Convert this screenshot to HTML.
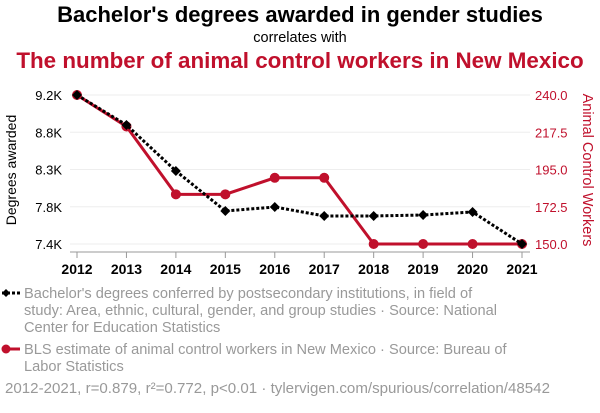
<!DOCTYPE html>
<html><head><meta charset="utf-8"><style>
body{margin:0;background:#fff;width:600px;height:408px;overflow:hidden;font-family:"Liberation Sans",sans-serif}
</style></head><body>
<svg width="600" height="408" font-family="Liberation Sans, sans-serif">
<text x="300" y="22" text-anchor="middle" font-size="22" font-weight="bold" fill="#000">Bachelor's degrees awarded in gender studies</text>
<text x="300" y="42" text-anchor="middle" font-size="14.5" fill="#000">correlates with</text>
<text x="300" y="68" text-anchor="middle" font-size="22.4" font-weight="bold" fill="#c0102c">The number of animal control workers in New Mexico</text>
<g id="grid"></g>
<g id="axes"></g>
<g id="series"></g>
<text transform="translate(16,170) rotate(-90)" text-anchor="middle" font-size="14" fill="#000">Degrees awarded</text>
<text transform="translate(583,170) rotate(90)" text-anchor="middle" font-size="14.5" fill="#c0102c">Animal Control Workers</text>
<g>
<line x1="2" y1="293" x2="22" y2="293" stroke="#000" stroke-width="3" stroke-dasharray="3,2"/>
<path d="M2,293 L6,289 L10,293 L6,297Z" fill="#000"/>
<text font-size="14.6" fill="#999"><tspan x="24" y="298">Bachelor's degrees conferred by postsecondary institutions, in field of</tspan><tspan x="24" y="315">study: Area, ethnic, cultural, gender, and group studies · Source: National</tspan><tspan x="24" y="332">Center for Education Statistics</tspan></text>
</g>
<g>
<line x1="2" y1="349" x2="20" y2="349" stroke="#c0102c" stroke-width="3"/>
<circle cx="6" cy="349" r="4.5" fill="#c0102c"/>
<text font-size="14.6" fill="#999"><tspan x="24" y="354">BLS estimate of animal control workers in New Mexico · Source: Bureau of</tspan><tspan x="24" y="371">Labor Statistics</tspan></text>
</g>
<text x="5" y="393" font-size="15.1" fill="#999">2012-2021, r=0.879, r²=0.772, p&lt;0.01 · tylervigen.com/spurious/correlation/48542</text>
</svg>
<script>
const years=[2012,2013,2014,2015,2016,2017,2018,2019,2020,2021];
const degrees=[9200,8838,8282,7799,7847,7739,7739,7750,7787,7400];
const workers=[240,221,180,180,190,190,150,150,150,150];
const leftTicks=[9200,8750,8300,7850,7400];
const leftLabels=["9.2K","8.8K","8.3K","7.8K","7.4K"];
const rightTicks=[240,217.5,195,172.5,150];
const NS="http://www.w3.org/2000/svg";
const x=i=>77+(522-77)*(years[i]-2012)/(2021-2012);
const yL=v=>95+(244-95)*(9200-v)/(9200-7400);
const yR=v=>95+(244-95)*(240-v)/(240-150);
function mk(t,a,p){const e=document.createElementNS(NS,t);for(const k in a)e.setAttribute(k,a[k]);p.appendChild(e);return e;}
const grid=document.getElementById('grid'),axes=document.getElementById('axes'),ser=document.getElementById('series');
leftTicks.forEach((v,i)=>{
 const g=mk('line',{x1:70,x2:530,y1:yL(v),y2:yL(v),stroke:'#eee','stroke-width':1},grid);
 
 
 const t=mk('text',{x:62,y:yL(v)+5,'text-anchor':'end','font-size':13,fill:'#000'},axes);t.textContent=leftLabels[i];
 
 
});
rightTicks.forEach(v=>{
 const t=mk('text',{x:535,y:yR(v)+5,'font-size':13,fill:'#c0102c'},axes);t.textContent=v.toFixed(1);
 
 
});
mk('line',{x1:70,x2:530,y1:252,y2:252,stroke:'#999','stroke-width':1},axes);
years.forEach((yr,i)=>{
 mk('line',{x1:x(i),x2:x(i),y1:252,y2:258,stroke:'#999'},axes);
 const t=mk('text',{x:x(i),y:274,'text-anchor':'middle','font-size':14,'font-weight':'bold',fill:'#000'},axes);t.textContent=yr;
 
 
});
const rp=mk('polyline',{points:workers.map((v,i)=>x(i)+','+yR(v)).join(' '),fill:'none',stroke:'#c0102c','stroke-width':3},ser);


workers.forEach((v,i)=>{const c=mk('circle',{cx:x(i),cy:yR(v),r:5,fill:'#c0102c'},ser);
 
 });
const bp=mk('polyline',{points:degrees.map((v,i)=>x(i)+','+yL(v)).join(' '),fill:'none',stroke:'#000','stroke-width':3,'stroke-dasharray':'3,2'},ser);


degrees.forEach((v,i)=>{const X=x(i),Y=yL(v);const p=mk('path',{d:`M${X-5},${Y}L${X},${Y-5}L${X+5},${Y}L${X},${Y+5}Z`,fill:'#000'},ser);
 
 });
</script>
</body></html>
